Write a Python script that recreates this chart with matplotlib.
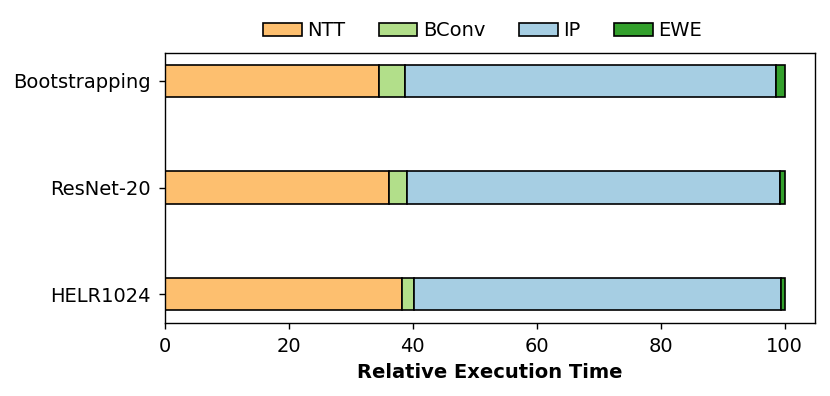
import matplotlib
matplotlib.use("Agg")
import matplotlib.pyplot as plt
import numpy as np

categories = ["Bootstrapping", "ResNet-20", "HELR1024"]
series_names = ["NTT", "BConv", "IP", "EWE"]
ntt = [34.5, 36.2, 38.2]
bconv = [4.2, 2.8, 2.0]
ip = [60.0, 60.2, 59.3]
ewe = [1.3, 0.8, 0.5]
colors = ["#fdbf6f", "#b2df8a", "#a6cee3", "#33a02c"]

fig = plt.figure(figsize=(8.3, 3.96), dpi=100)
ax = fig.add_axes([0.1988, 0.1856, 0.7837, 0.6818])

y = np.arange(len(categories))
left = np.zeros(len(categories))
for name, vals, c in zip(series_names, [ntt, bconv, ip, ewe], colors):
    ax.barh(y, vals, left=left, height=0.3, color=c, edgecolor="black",
            linewidth=1.2, label=name)
    left += np.array(vals)

for s in ax.spines.values():
    s.set_linewidth(1.0)
ax.set_yticks(y)
ax.set_yticklabels(categories, fontsize=14)
ax.invert_yaxis()
ax.set_xlim(0, 105)
ax.set_xticks([0, 20, 40, 60, 80, 100])
ax.tick_params(axis="both", labelsize=14, length=4.3, width=1.0, pad=6.0)
ax.set_xlabel("Relative Execution Time", fontsize=14, fontweight="bold", labelpad=5)
ax.legend(loc="lower center", bbox_to_anchor=(0.488, 0.98), ncol=4, frameon=False,
          fontsize=14, handlelength=2.0, handletextpad=0.3, columnspacing=1.7)

fig.savefig("out.png", dpi=100)
